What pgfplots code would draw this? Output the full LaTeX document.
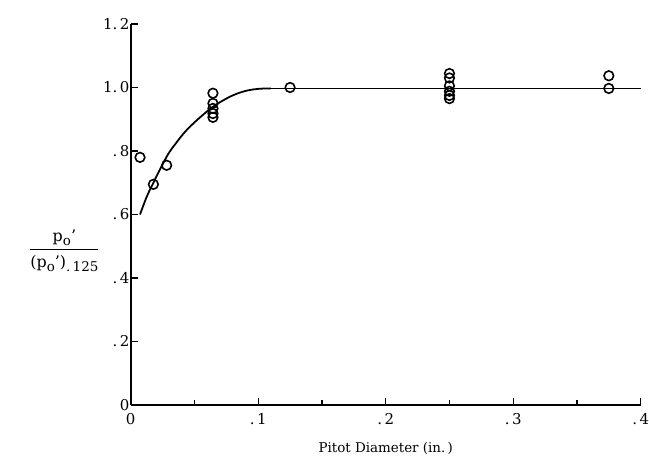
\documentclass[border=0pt]{standalone}
\usepackage{fontspec}
\setmainfont{DejaVu Serif}
\usepackage{pgfplots}
\pgfplotsset{compat=1.18}
\newcommand{\sub}[1]{\raisebox{-4pt}{\fontsize{13.5}{14}\selectfont #1}}
\begin{document}
\begin{tikzpicture}
\begin{axis}[name=ax, scale only axis, width=510bp, height=381bp,
  xmin=0, xmax=0.4, ymin=0, ymax=1.2,
  axis lines=left, axis line style={line width=2.1pt, -},
  xtick={0,0.1,0.2,0.3,0.4}, xticklabels={0,.\,1,.\,2,.\,3,.\,4},
  minor xtick={0.05,0.15,0.25,0.35},
  ytick={0,0.2,0.4,0.6,0.8,1.0,1.2},
  yticklabels={0,.\,2,.\,4,.\,6,.\,8,1.\,0,1.\,2},
  tick align=inside, major tick length=7bp, minor tick length=5bp,
  tick style={line width=1.3pt, black},
  yticklabel style={inner sep=0pt, xshift=-1bp},
  xticklabel style={yshift=-5bp},
  /pgf/number format/assume math mode=true,
  tick label style={font=\fontsize{15}{17}\selectfont},
  every axis x label/.style={at={(axis description cs:0.5,-0.113)}, anchor=center, font=\fontsize{13.5}{16}\selectfont},
  every axis y label/.style={at={(axis description cs:-0.13,0.405)}, anchor=center, font=\fontsize{16}{18}\selectfont},
  xlabel={Pitot Diameter (in.\,)},
  ylabel={\begin{tabular}{@{}c@{}}p\sub{o}'\\[2pt]\hline\rule{0pt}{18pt}(p\sub{o}')\sub{.\,125}\end{tabular}},
  clip=false,
]
\addplot[black, line width=1.8pt, smooth, tension=0.6] coordinates {
  (0.0073,0.600) (0.0125,0.655) (0.0178,0.700) (0.0282,0.782) (0.035,0.822)
  (0.0439,0.866) (0.055,0.908) (0.0648,0.940) (0.075,0.965) (0.083,0.980)
  (0.092,0.991) (0.101,0.996) (0.11,0.997)
};
\addplot[black, line width=1.8pt] coordinates {(0.11,0.997) (0.4,0.997)};
\addplot[only marks, mark=o, mark size=4.8bp, mark options={fill=white, line width=1.6pt, black}] coordinates {
  (0.0073,0.780) (0.0178,0.695) (0.0282,0.755)
  (0.0645,0.982) (0.0645,0.950) (0.0645,0.934) (0.0645,0.918) (0.0645,0.906)
  (0.125,1.000)
  (0.25,1.044) (0.25,1.030) (0.25,1.005) (0.25,0.988) (0.25,0.975) (0.25,0.965)
  (0.375,1.037) (0.375,0.997)
};
\end{axis}
\pgfresetboundingbox
\path[use as bounding box] (ax.south west) ++(-130.7bp,-60bp) rectangle ++(649bp,465bp);
\end{tikzpicture}
\end{document}
